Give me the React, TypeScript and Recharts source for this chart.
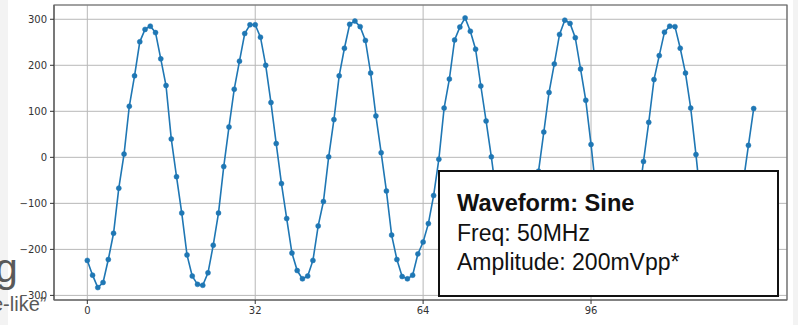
import React from "react";
import { LineChart, Line, XAxis, YAxis, CartesianGrid, ReferenceArea } from "recharts";

const sampleValues: number[] = [
  -224, -256, -283, -272, -222, -165, -67, 7, 111, 177,
  251, 278, 285, 271, 214, 156, 40, -42, -121, -212,
  -258, -276, -278, -251, -191, -121, -20, 66, 148, 209,
  269, 288, 288, 261, 200, 119, 30, -57, -133, -208,
  -246, -264, -258, -224, -149, -96, 1, 82, 177, 237,
  289, 296, 284, 254, 183, 90, 10, -73, -169, -222,
  -259, -264, -256, -210, -184, -144, -83, -4, 107, 170,
  255, 283, 303, 274, 235, 155, 79, 1, -85, -170,
  -235, -270, -275, -250, -200, -120, -30, 55, 141, 203,
  267, 298, 291, 260, 192, 124, 28, -80, -165, -235,
  -272, -280, -268, -225, -170, -95, -9, 76, 169, 221,
  272, 285, 284, 237, 183, 107, 6, -105, -185, -245,
  -278, -283, -265, -215, -140, -55, 26, 106,
];

const xTicks = [0, 32, 64, 96];
const yTicks = [-300, -200, -100, 0, 100, 200, 300];
const xDomain: [number, number] = [-6.35, 133.35];
const yDomain: [number, number] = [-310, 331];

const boxTitle = "Waveform: Sine";
const boxLines = ["Freq: 50MHz", "Amplitude: 200mVpp*"];

const data = sampleValues.map((v, i) => ({ n: i, v }));

const fmtY = (v: number) => (v < 0 ? "\u2212" + Math.abs(v) : String(v));

const tickStyle = { fontFamily: "'DejaVu Sans', sans-serif", fontSize: 10, fill: "#333" };

export default function App() {
  return (
    <div
      style={{
        position: "fixed",
        left: 0,
        top: 0,
        width: 798,
        height: 325,
        background: "#f3f3f3",
        overflow: "hidden",
      }}
    >
      <div style={{ position: "absolute", left: 8, top: 0, width: 785, height: 325, background: "#fff" }} />
      <div style={{ position: "absolute", left: 0, top: 0 }}>
        <LineChart width={798} height={325} data={data} margin={{ top: 5, right: 11, bottom: 0, left: 0 }}>
          <CartesianGrid stroke="#b8b8b8" strokeWidth={1} />
          <XAxis
            dataKey="n"
            type="number"
            domain={xDomain}
            ticks={xTicks}
            allowDataOverflow
            height={25}
            tickSize={4}
            tickMargin={3}
            tick={tickStyle}
            axisLine={{ stroke: "#666", strokeWidth: 1.2 }}
            tickLine={{ stroke: "#333" }}
          />
          <YAxis
            type="number"
            domain={yDomain}
            ticks={yTicks}
            allowDataOverflow
            width={54}
            tickSize={4}
            tickMargin={3}
            tick={tickStyle}
            tickFormatter={fmtY}
            axisLine={{ stroke: "#666", strokeWidth: 1.2 }}
            tickLine={{ stroke: "#333" }}
          />
          <ReferenceArea
            x1={xDomain[0]}
            x2={xDomain[1]}
            y1={yDomain[0]}
            y2={yDomain[1]}
            stroke="#666"
            strokeWidth={1.2}
            fill="none"
            fillOpacity={0}
            ifOverflow="visible"
          />
          <Line
            type="linear"
            dataKey="v"
            stroke="#1f77b4"
            strokeWidth={1.6}
            dot={{ r: 2.5, fill: "#1f77b4", stroke: "#1f77b4", strokeWidth: 0.5 }}
            isAnimationActive={false}
          />
        </LineChart>
      </div>
      <div
        style={{
          position: "absolute",
          left: 438,
          top: 170,
          width: 341,
          height: 127,
          boxSizing: "border-box",
          border: "2px solid #111",
          background: "#fff",
          fontFamily: "'Liberation Sans', Arial, sans-serif",
          fontSize: 23,
          lineHeight: "29.5px",
          color: "#111",
          paddingLeft: 17,
          paddingTop: 17,
        }}
      >
        <div style={{ fontWeight: "bold", fontSize: 23.6 }}>{boxTitle}</div>
        {boxLines.map((t) => (
          <div key={t}>{t}</div>
        ))}
      </div>
      <div
        style={{
          position: "absolute",
          left: -5,
          top: 248,
          fontFamily: "'Liberation Sans', Arial, sans-serif",
          fontSize: 41,
          lineHeight: "41px",
          color: "#595959",
        }}
      >
        g
      </div>
      <div
        style={{
          position: "absolute",
          left: -8,
          top: 294,
          fontFamily: "'Liberation Sans', Arial, sans-serif",
          fontSize: 20,
          lineHeight: "20px",
          color: "#595959",
          whiteSpace: "nowrap",
        }}
      >
        e-like{"\u201D"}
      </div>
    </div>
  );
}
